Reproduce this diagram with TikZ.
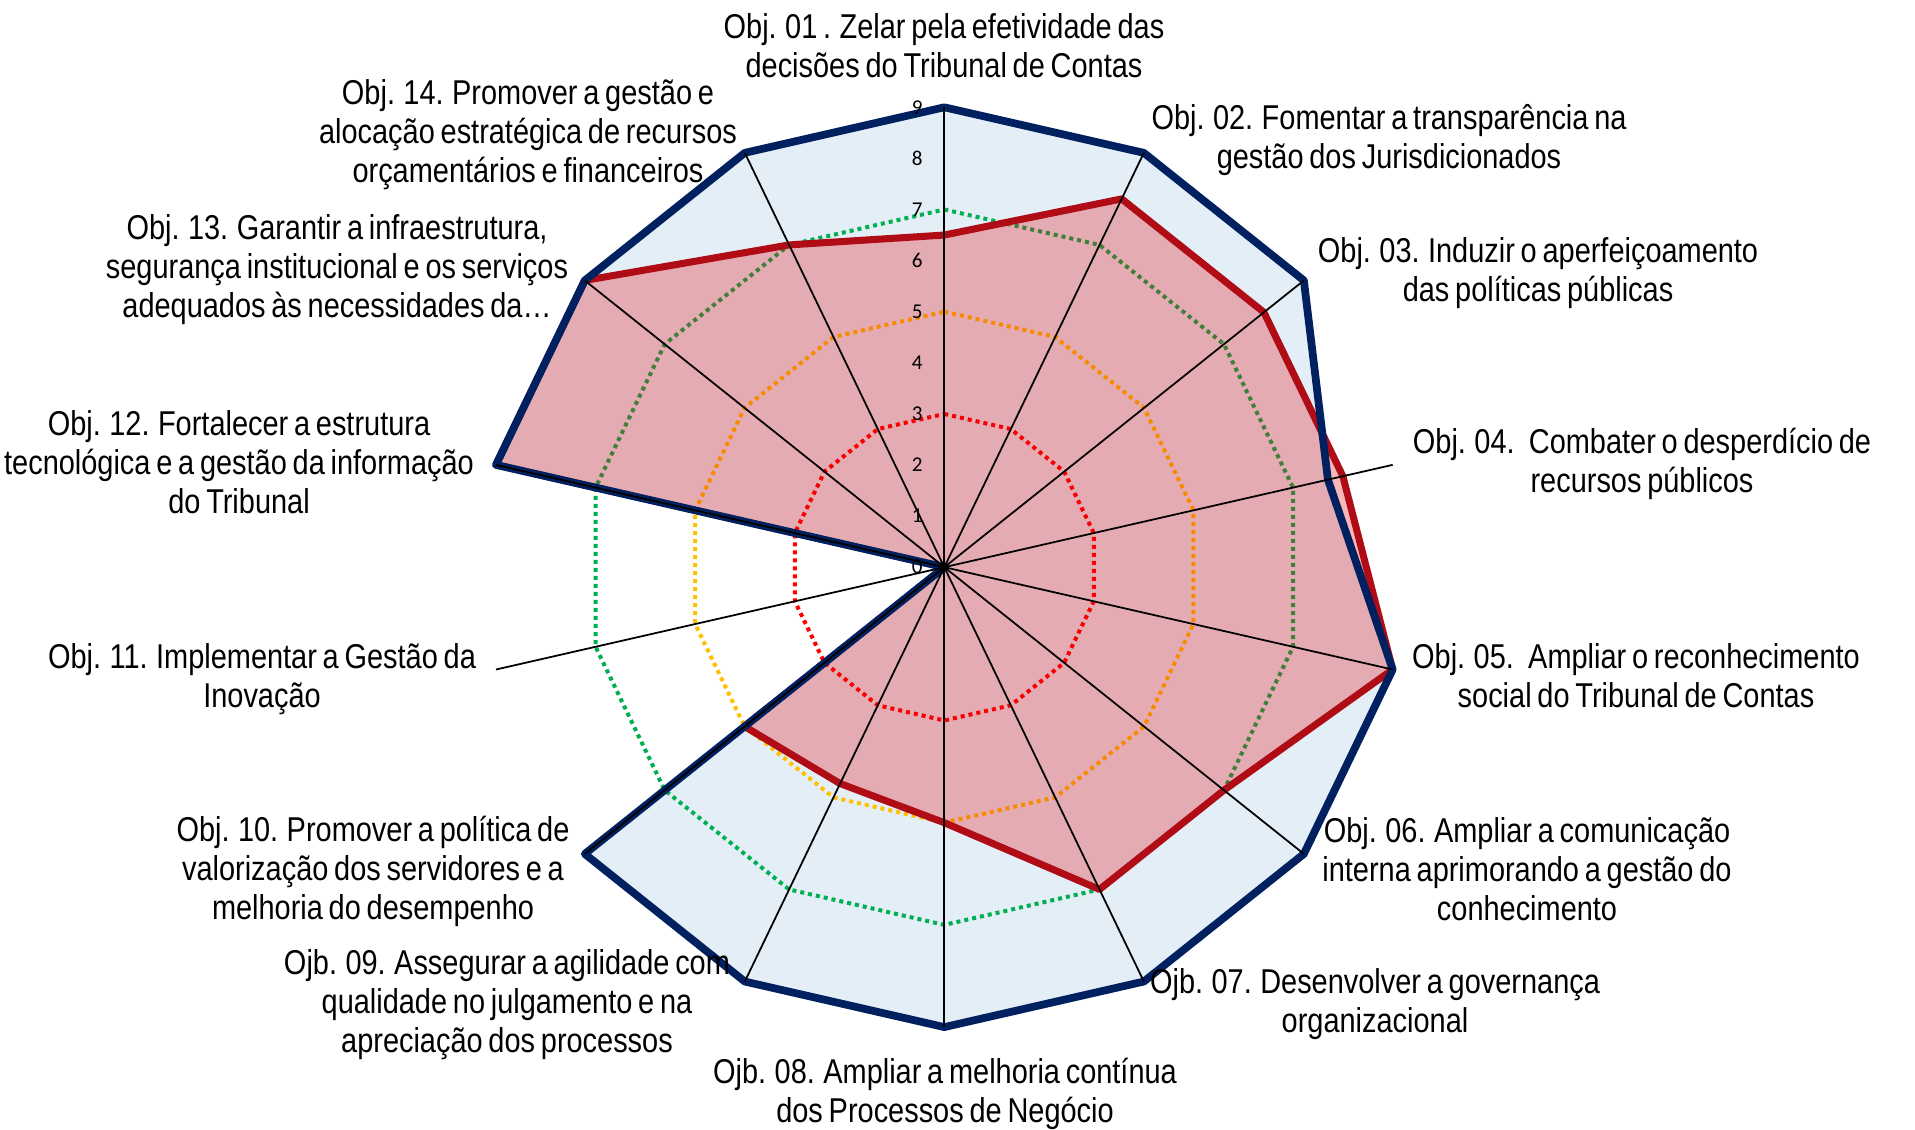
\documentclass[tikz,border=0pt]{standalone}
\usepackage{fontspec}
\setmainfont[FakeStretch=0.84, WordSpace=0.72]{Liberation Sans}
\newfontfamily\tickfont{Carlito}
\usepackage{tikz}

\definecolor{chartblue}{RGB}{0,32,96}
\definecolor{areablue}{RGB}{228,238,247}
\definecolor{chartred}{RGB}{175,12,22}
\definecolor{areared}{RGB}{230,0,0}
\definecolor{ringred}{RGB}{255,0,0}
\definecolor{ringgold}{RGB}{255,192,0}
\definecolor{ringgreen}{RGB}{0,176,80}

\tikzset{
  objtext/.style={align=center, inner sep=0pt, font=\fontsize{9.8}{11.1}\selectfont},
  ticktext/.style={anchor=east, inner sep=0pt, xshift=-0.21cm, font=\tickfont\fontsize{6}{7}\selectfont},
  axisline/.style={black, line width=0.5pt},
  ringline/.style={line width=1.14pt, dash pattern=on 1.14pt off 1.14pt},
  serieline/.style={line width=2pt, line join=round}
}

\newcommand{\objlabel}[3]{\node at (#1) (#2) [objtext] {#3};}
\newcommand{\ticklabel}[1]{\node at (0,#1) (t#1) [ticktext] {#1};}
\newcommand{\radaraxis}[2]{\coordinate (#1) at (#2:9); \draw [axisline] (o) -- (#1);}
\newcommand{\radarring}[2]{\draw [ringline, #1] (90:#2) -- (64.2857:#2) -- (38.5714:#2) -- (12.8571:#2) -- (-12.8571:#2) -- (-38.5714:#2) -- (-64.2857:#2) -- (-90:#2) -- (-115.7143:#2) -- (-141.4286:#2) -- (-167.1429:#2) -- (167.1429:#2) -- (141.4286:#2) -- (115.7143:#2) -- cycle;}

\begin{document}
\begin{tikzpicture}

\useasboundingbox (0,0) rectangle (19.15,-11.30);
\coordinate (center) at (9.443,-5.672);

\begin{scope}[shift={(center)}, x=0.511cm, y=0.511cm]
\coordinate (o) at (0,0);

% target area
\fill [areablue] (90:9) -- (64.2857:9) -- (38.5714:9) -- (12.8571:7.7) -- (-12.8571:9) -- (-38.5714:9) -- (-64.2857:9) -- (-90:9) -- (-115.7143:9) -- (-141.4286:9) -- (o) -- (167.1429:9) -- (141.4286:9) -- (115.7143:9) -- cycle;

% reference rings
\radarring{ringred}{3}
\radarring{ringgold}{5}
\radarring{ringgreen}{7}

% result area
\fill [areared, fill opacity=0.28] (90:6.5) -- (64.2857:8) -- (38.5714:8) -- (12.8571:8) -- (-12.8571:9) -- (-38.5714:7) -- (-64.2857:7) -- (-90:5) -- (-115.7143:4.7) -- (-141.4286:5) -- (o) -- (167.1429:9) -- (141.4286:9) -- (115.7143:7) -- cycle;

\draw [serieline, chartred] (90:6.5) -- (64.2857:8) -- (38.5714:8) -- (12.8571:8) -- (-12.8571:9) -- (-38.5714:7) -- (-64.2857:7) -- (-90:5) -- (-115.7143:4.7) -- (-141.4286:5) -- (o) -- (167.1429:9) -- (141.4286:9) -- (115.7143:7) -- cycle;
\draw [serieline, chartblue, line width=2.2pt] (90:9) -- (64.2857:9) -- (38.5714:9) -- (12.8571:7.7) -- (-12.8571:9) -- (-38.5714:9) -- (-64.2857:9) -- (-90:9) -- (-115.7143:9) -- (-141.4286:9) -- (o) -- (167.1429:9) -- (141.4286:9) -- (115.7143:9) -- cycle;

% axes
\radaraxis{a1}{90}
\radaraxis{a2}{64.2857}
\radaraxis{a3}{38.5714}
\radaraxis{a4}{12.8571}
\radaraxis{a5}{-12.8571}
\radaraxis{a6}{-38.5714}
\radaraxis{a7}{-64.2857}
\radaraxis{a8}{-90}
\radaraxis{a9}{-115.7143}
\radaraxis{a10}{-141.4286}
\radaraxis{a11}{-167.1429}
\radaraxis{a12}{167.1429}
\radaraxis{a13}{141.4286}
\radaraxis{a14}{115.7143}

\ticklabel{0}
\ticklabel{1}
\ticklabel{2}
\ticklabel{3}
\ticklabel{4}
\ticklabel{5}
\ticklabel{6}
\ticklabel{7}
\ticklabel{8}
\ticklabel{9}
\end{scope}

\objlabel{9.44,-0.46}{obj1}{Obj. 01 . Zelar pela efetividade das\\decisões do Tribunal de Contas}
\objlabel{13.89,-1.40}{obj2}{Obj. 02. Fomentar a transparência na\\gestão dos Jurisdicionados}
\objlabel{15.38,-2.73}{obj3}{Obj. 03. Induzir o aperfeiçoamento\\das políticas públicas}
\objlabel{16.42,-4.64}{obj4}{Obj. 04.~ Combater o desperdício de\\recursos públicos}
\objlabel{16.36,-6.76}{obj5}{Obj. 05.~ Ampliar o reconhecimento\\social do Tribunal de Contas}
\objlabel{15.27,-8.69}{obj6}{Obj. 06. Ampliar a comunicação\\interna aprimorando a gestão do\\conhecimento}
\objlabel{13.75,-10.04}{obj7}{Ojb. 07. Desenvolver a governança\\organizacional}
\objlabel{9.45,-10.94}{obj8}{Ojb. 08. Ampliar a melhoria contínua\\dos Processos de Negócio}
\objlabel{5.07,-10.05}{obj9}{Ojb. 09. Assegurar a agilidade com\\qualidade no julgamento e na\\apreciação dos processos}
\objlabel{3.73,-8.71}{obj10}{Obj. 10. Promover a política de\\valorização dos servidores e a\\melhoria do desempenho}
\objlabel{2.62,-6.79}{obj11}{Obj. 11. Implementar a Gestão da\\Inovação}
\objlabel{2.39,-4.62}{obj12}{Obj. 12. Fortalecer a estrutura\\tecnológica e a gestão da informação\\do Tribunal}
\objlabel{3.37,-2.70}{obj13}{Obj. 13. Garantir a infraestrutura,\\segurança institucional e os serviços\\adequados às necessidades da…}
\objlabel{5.28,-1.35}{obj14}{Obj. 14. Promover a gestão e\\alocação estratégica de recursos\\orçamentários e financeiros}

\end{tikzpicture}
\end{document}
